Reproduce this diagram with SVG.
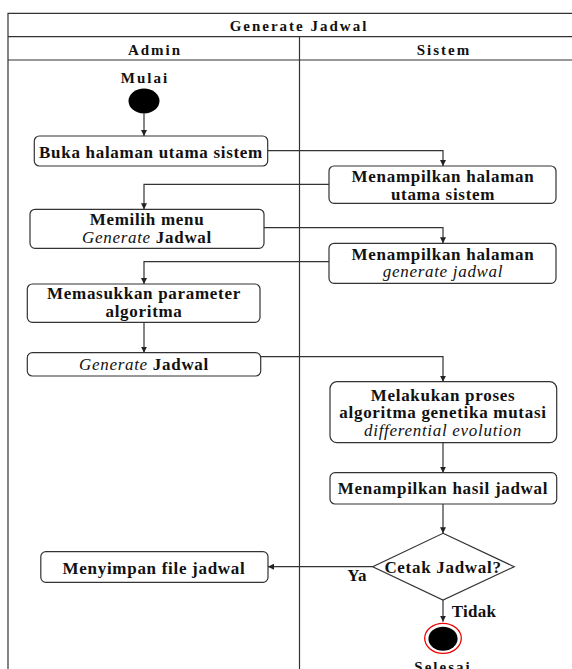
<svg xmlns="http://www.w3.org/2000/svg" width="572" height="669" viewBox="0 0 572 669">
<defs>
<marker id="arr" viewBox="0 0 10 10" refX="10" refY="5" markerWidth="6" markerHeight="6" markerUnits="userSpaceOnUse" orient="auto">
<path d="M0,0 L10,5 L0,10 z" fill="#222"/>
</marker>
<style>
.lane{fill:none;stroke:#333;stroke-width:1.2}
.box{fill:#fff;stroke:#333;stroke-width:1.2}
.hd{font-family:"Liberation Serif","Times New Roman",serif;font-weight:bold;font-size:15px;letter-spacing:2px;fill:#111;text-anchor:middle}
.t{font-family:"Liberation Serif","Times New Roman",serif;font-weight:bold;font-size:17px;letter-spacing:0.7px;fill:#111;text-anchor:middle}
.lbl{font-family:"Liberation Serif","Times New Roman",serif;font-weight:bold;font-size:17px;letter-spacing:0.3px;fill:#111;text-anchor:middle}
.it{font-style:italic;font-weight:normal}
.c{fill:none;stroke:#333;stroke-width:1.2;marker-end:url(#arr)}
</style>
</defs>
<rect width="572" height="669" fill="#fff"/>
<g id="pool">
<path class="lane" d="M8,680 V13.3 H600 M8,36.7 H600 M8,60 H600 M299.5,36.7 V680"/>
<text class="hd" x="299" y="30.7">Generate Jadwal</text>
<text class="hd" x="155" y="55">Admin</text>
<text class="hd" x="444" y="55">Sistem</text>
</g>
<g id="connectors">
<path class="c" d="M144,113.5 V136"/>
<path class="c" d="M268,150.7 H443 V166"/>
<path class="c" d="M329,184.3 H144 V209.3"/>
<path class="c" d="M264,227.7 H443 V243.3"/>
<path class="c" d="M329,261.7 H144 V284"/>
<path class="c" d="M144,322.3 V352.7"/>
<path class="c" d="M260.7,356.7 H443 V381.7"/>
<path class="c" d="M443,442.7 V472.7"/>
<path class="c" d="M443,504 V533.3"/>
<path class="c" d="M372.7,566.7 H268"/>
<path class="c" d="M443,600 V621.7"/>
<text class="lbl" x="357" y="580.7">Ya</text>
<text class="lbl" x="474" y="616.7">Tidak</text>
</g>
<g id="start">
<text class="hd" x="145" y="82.7">Mulai</text>
<ellipse cx="144" cy="101" rx="15.5" ry="12.5" fill="#000"/>
</g>
<g id="n1">
<rect class="box" x="34.3" y="136" width="233.4" height="30" rx="5"/>
<text class="t" x="151" y="158">Buka halaman utama sistem</text>
</g>
<g id="n2">
<rect class="box" x="329" y="166" width="227" height="37.3" rx="5"/>
<text class="t" x="443" y="182">Menampilkan halaman</text>
<text class="t" x="443" y="199.5">utama sistem</text>
</g>
<g id="n3">
<rect class="box" x="30" y="209.3" width="234" height="39" rx="5"/>
<text class="t" x="147" y="225">Memilih menu</text>
<text class="t" x="147" y="243.3"><tspan class="it">Generate</tspan> Jadwal</text>
</g>
<g id="n4">
<rect class="box" x="329" y="243.3" width="227" height="40" rx="5"/>
<text class="t" x="443" y="259.5">Menampilkan halaman</text>
<text class="t" x="443" y="277"><tspan class="it">generate jadwal</tspan></text>
</g>
<g id="n5">
<rect class="box" x="27.3" y="284" width="232.7" height="38.3" rx="5"/>
<text class="t" x="144" y="299">Memasukkan parameter</text>
<text class="t" x="144" y="317">algoritma</text>
</g>
<g id="n6">
<rect class="box" x="27.3" y="352.7" width="233.4" height="23.3" rx="5"/>
<text class="t" x="144" y="370.3"><tspan class="it">Generate</tspan> Jadwal</text>
</g>
<g id="n7">
<rect class="box" x="330" y="381.7" width="226.7" height="61" rx="7"/>
<text class="t" x="443" y="400.5">Melakukan proses</text>
<text class="t" x="443" y="418">algoritma genetika mutasi</text>
<text class="t" x="443" y="435.5"><tspan class="it">differential evolution</tspan></text>
</g>
<g id="n8">
<rect class="box" x="330" y="472.7" width="226.7" height="31.3" rx="5"/>
<text class="t" x="443" y="494">Menampilkan hasil jadwal</text>
</g>
<g id="decision">
<path class="box" d="M443,533.3 L514.2,566.7 L443,600 L372.7,566.7 z"/>
<text class="t" x="443" y="573.3">Cetak Jadwal?</text>
</g>
<g id="n9">
<rect class="box" x="40.8" y="551.7" width="227.2" height="30.6" rx="5"/>
<text class="t" x="154" y="573.5">Menyimpan file jadwal</text>
</g>
<g id="end">
<ellipse cx="443" cy="638.3" rx="18.3" ry="15" fill="#fff" stroke="#e00" stroke-width="1.3"/>
<ellipse cx="443" cy="638.7" rx="14.6" ry="12" fill="#000"/>
<text class="hd" x="443" y="672">Selesai</text>
</g>
</svg>
